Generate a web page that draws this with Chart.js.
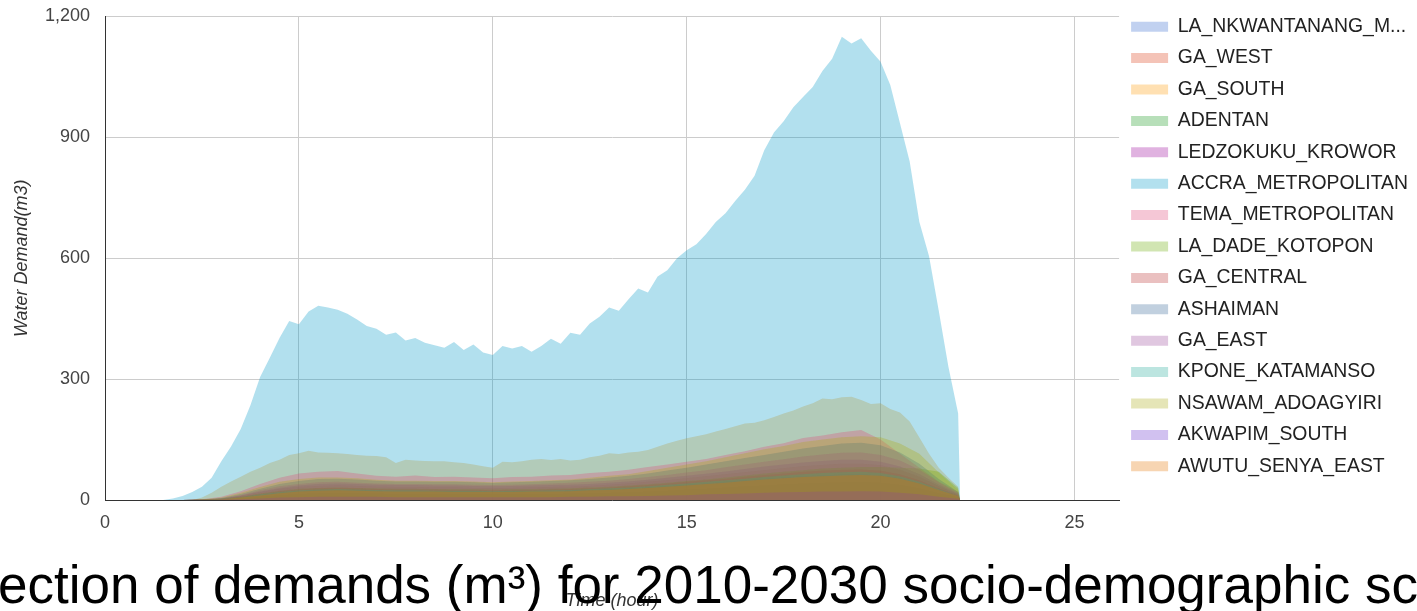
<!DOCTYPE html>
<html>
<head>
<meta charset="utf-8">
<script src="https://cdn.jsdelivr.net/npm/chart.js@4.4.1/dist/chart.umd.min.js"></script>
<style>
	html, body {
		margin: 0;
		padding: 0;
		background: #fff;
		overflow: hidden;
	}
	#wrap {
		position: relative;
		width: 1417px;
		height: 611px;
		overflow: hidden;
	}
	#caption {
		position: absolute;
		left: -2px;
		top: 558px;
		font-family: 'Liberation Sans', Arial, sans-serif;
		font-size: 53px;
		line-height: 53px;
		color: #000;
		white-space: nowrap;
	}
</style>
</head>
<body>
<div id="wrap">
	<canvas id="demand"></canvas>
	<div id="caption">ection of demands (m³) for 2010-2030 socio-demographic scenario</div>
</div>
<script>
// x grid: quarter hours for the two big series, half hours for the rest
var hours = [];
for (var i = 0; i <= 88; i++) hours.push(i / 4);
hours.push(22.05);

var halfHours = [];
for (var i = 0; i <= 44; i++) halfHours.push(i / 2);
halfHours.push(22.05);

var districts = [
	'LA_NKWANTANANG_M...',
	'GA_WEST',
	'GA_SOUTH',
	'ADENTAN',
	'LEDZOKUKU_KROWOR',
	'ACCRA_METROPOLITAN',
	'TEMA_METROPOLITAN',
	'LA_DADE_KOTOPON',
	'GA_CENTRAL',
	'ASHAIMAN',
	'GA_EAST',
	'KPONE_KATAMANSO',
	'NSAWAM_ADOAGYIRI',
	'AKWAPIM_SOUTH',
	'AWUTU_SENYA_EAST',
];

var colours = [
	'51,102,204',
	'220,57,18',
	'255,153,0',
	'16,150,24',
	'153,0,153',
	'0,153,198',
	'221,68,119',
	'102,170,0',
	'184,46,46',
	'49,99,149',
	'153,68,153',
	'34,170,153',
	'170,170,17',
	'102,51,204',
	'230,115,0',
];

// quarter-hour values
var accra = [
	0, 0, 0, 0,
	0, 0, 0, 4,
	10, 20, 33, 55,
	96, 133, 176, 235,
	305, 353, 402, 444,
	436, 468, 482, 478,
	472, 462, 448, 432,
	425, 410, 416, 396,
	402, 390, 384, 378,
	392, 372, 386, 366,
	360, 382, 376, 382,
	368, 382, 400, 388,
	415, 410, 438, 455,
	478, 470, 498, 525,
	515, 555, 570, 600,
	620, 635, 660, 690,
	712, 742, 770, 805,
	868, 912, 940, 975,
	1000, 1025, 1065, 1095,
	1150, 1133, 1146, 1115,
	1088, 1030, 935, 840,
	690, 605, 470, 330,
	215, 0
];

var gaSouth = [
	0, 0, 0, 0,
	0, 0, 0, 0,
	0, 0, 6, 18,
	33, 46, 58, 70,
	80, 92, 100, 112,
	116, 122, 118, 117,
	116, 114, 112, 110,
	109, 106, 92, 100,
	98, 97, 96, 96,
	94, 92, 88, 84,
	80, 95, 94, 96,
	100, 102, 99, 102,
	98, 100, 106, 110,
	116, 114, 118, 120,
	124, 132, 140, 147,
	153, 158, 163, 170,
	176, 183, 190, 192,
	198, 206, 215, 222,
	232, 240, 252, 250,
	255, 256, 248, 238,
	240, 226, 217, 195,
	155, 115, 80, 55,
	33, 0
];

// half-hour values
var tema = [
	0, 0, 0, 0, 0, 2, 8, 22, 40, 55,
	66, 70, 72, 66, 60, 58, 61, 57, 58, 56,
	54, 57, 58, 61, 62, 67, 70, 75, 82, 88,
	95, 102, 112, 121, 132, 141, 154, 160, 168, 174,
	150, 115, 80, 45, 20, 0
];

var nsawam = [
	0, 0, 0, 0, 0, 1, 6, 18, 32, 45,
	52, 56, 56, 54, 50, 48, 48, 47, 47, 46,
	44, 46, 47, 49, 51, 55, 60, 64, 72, 80,
	88, 96, 106, 116, 126, 134, 144, 150, 156, 158,
	156, 140, 115, 68, 25, 0
];

var ashaiman = [
	0, 0, 0, 0, 0, 1, 5, 15, 28, 40,
	47, 52, 53, 51, 48, 46, 46, 45, 45, 44,
	42, 44, 45, 47, 49, 52, 56, 60, 66, 73,
	80, 88, 96, 104, 112, 120, 128, 134, 140, 142,
	136, 118, 90, 52, 20, 0
];

var gaEast = [
	0, 0, 0, 0, 0, 1, 4, 12, 24, 34,
	40, 44, 45, 43, 41, 40, 40, 39, 39, 38,
	37, 38, 39, 41, 43, 45, 48, 52, 57, 62,
	68, 74, 81, 88, 95, 101, 108, 113, 117, 118,
	112, 98, 75, 44, 17, 0
];

var ledzokuku = [
	0, 0, 0, 0, 0, 1, 4, 11, 21, 30,
	36, 40, 41, 40, 38, 37, 37, 36, 36, 35,
	34, 35, 36, 37, 38, 40, 43, 46, 50, 55,
	60, 65, 71, 77, 83, 88, 93, 97, 100, 100,
	95, 83, 64, 38, 15, 0
];

var gaWest = [
	0, 0, 0, 0, 0, 1, 3, 10, 19, 27,
	32, 35, 36, 35, 33, 32, 32, 31, 31, 30,
	29, 30, 31, 32, 33, 35, 38, 41, 45, 49,
	54, 59, 64, 69, 74, 79, 84, 87, 90, 90,
	86, 75, 58, 34, 13, 0
];

var laDade = [
	0, 0, 0, 0, 0, 1, 3, 8, 16, 23,
	28, 30, 31, 30, 29, 28, 28, 27, 27, 27,
	26, 27, 27, 28, 29, 31, 33, 36, 39, 43,
	47, 51, 56, 61, 66, 70, 74, 78, 80, 82,
	82, 80, 78, 70, 30, 0
];

var gaCentral = [
	0, 0, 0, 0, 0, 1, 3, 8, 15, 22,
	26, 29, 30, 29, 27, 26, 26, 26, 25, 25,
	24, 25, 25, 26, 27, 29, 31, 34, 37, 41,
	45, 49, 53, 58, 62, 66, 70, 73, 75, 76,
	73, 64, 49, 29, 11, 0
];

var kpone = [
	0, 0, 0, 0, 0, 1, 3, 7, 14, 20,
	24, 26, 27, 26, 25, 24, 24, 23, 23, 23,
	22, 23, 23, 24, 25, 27, 29, 31, 34, 38,
	41, 45, 49, 53, 57, 61, 64, 67, 69, 70,
	67, 59, 45, 27, 10, 0
];

var laNkwantanang = [
	0, 0, 0, 0, 0, 1, 2, 6, 12, 18,
	22, 24, 25, 24, 23, 22, 22, 21, 21, 21,
	20, 21, 21, 22, 23, 24, 26, 28, 31, 34,
	37, 41, 45, 49, 52, 56, 59, 61, 63, 64,
	61, 54, 41, 24, 9, 0
];

var awutu = [
	0, 0, 0, 0, 0, 1, 2, 6, 11, 17,
	21, 23, 24, 23, 22, 21, 21, 21, 20, 20,
	20, 20, 21, 21, 22, 24, 25, 27, 30, 33,
	36, 40, 43, 47, 51, 54, 57, 59, 61, 62,
	60, 53, 41, 25, 10, 0
];

var adentan = [
	0, 0, 0, 0, 0, 0, 2, 4, 8, 12,
	15, 17, 17, 17, 16, 15, 15, 15, 15, 14,
	14, 14, 15, 15, 16, 17, 18, 19, 21, 23,
	26, 28, 31, 34, 36, 39, 41, 43, 44, 45,
	43, 38, 29, 17, 7, 0
];

var akwapim = [
	0, 0, 0, 0, 0, 0, 1, 2, 4, 6,
	7, 8, 8, 8, 8, 7, 7, 7, 7, 7,
	7, 7, 7, 7, 8, 8, 9, 9, 10, 11,
	12, 14, 15, 16, 18, 19, 20, 21, 21, 22,
	21, 18, 14, 8, 3, 0
];

// same order as districts
var values = [laNkwantanang, gaWest, gaSouth, adentan, ledzokuku, accra, tema, laDade, gaCentral, ashaiman, gaEast, kpone, nsawam, akwapim, awutu];
var xs = [halfHours, halfHours, hours, halfHours, halfHours, hours, halfHours, halfHours, halfHours, halfHours, halfHours, halfHours, halfHours, halfHours, halfHours];

var datasets = [];
for (var d = 0; d < districts.length; d++) {
	var points = [];
	for (var j = 0; j < xs[d].length; j++) {
		points.push({x: xs[d][j], y: values[d][j]});
	}
	datasets.push({
		label: districts[d],
		data: points,
		backgroundColor: 'rgba(' + colours[d] + ',0.3)',
		borderColor: 'rgba(0,0,0,0)',
		borderWidth: 0,
		pointRadius: 0,
		fill: 'origin',
		// later series painted over earlier ones
		order: -d,
	});
}

Chart.defaults.font.family = "'Liberation Sans', Arial, sans-serif";

var config = {
	type: 'line',
	data: {
		datasets: datasets
	},
	options: {
		responsive: true,
		maintainAspectRatio: false,
		animation: false,
		events: [],
		layout: {
			padding: {top: 5, right: -1, bottom: 0, left: 0}
		},
		elements: {
			line: {
				tension: 0,
			}
		},
		scales: {
			x: {
				type: 'linear',
				min: 0,
				max: 26.15,
				ticks: {
					stepSize: 5,
					includeBounds: false,
					padding: 12,
					color: '#444',
					font: {size: 18},
				},
				grid: {
					color: '#cccccc',
					drawTicks: false,
				},
				border: {
					color: '#333',
				},
				title: {
					display: true,
					text: 'Time (hour)',
					color: '#333',
					font: {size: 18, style: 'italic', lineHeight: 1},
					padding: {top: 0, bottom: 1},
				},
				afterFit: function(scale) {
					scale.height = 111;
				}
			},
			y: {
				min: 0,
				max: 1200,
				ticks: {
					stepSize: 300,
					padding: 15,
					color: '#444',
					font: {size: 18, lineHeight: 0.17},
				},
				grid: {
					color: '#cccccc',
					drawTicks: false,
				},
				border: {
					color: '#333',
				},
				title: {
					display: true,
					text: 'Water Demand(m3)',
					color: '#333',
					font: {size: 18, style: 'italic', lineHeight: 1},
					padding: {top: 13, bottom: 0},
				},
				afterFit: function(scale) {
					scale.width = 105;
				}
			}
		},
		plugins: {
			legend: {
				position: 'right',
				align: 'start',
				labels: {
					boxWidth: 37,
					boxHeight: 10,
					padding: 12,
					color: '#222',
					font: {size: 19.4},
					sort: function(a, b) {
						return a.datasetIndex - b.datasetIndex;
					}
				}
			},
			tooltip: {
				enabled: false
			}
		}
	}
};

var myChart = new Chart(
	document.getElementById('demand'),
	config
);
</script>
</body>
</html>
